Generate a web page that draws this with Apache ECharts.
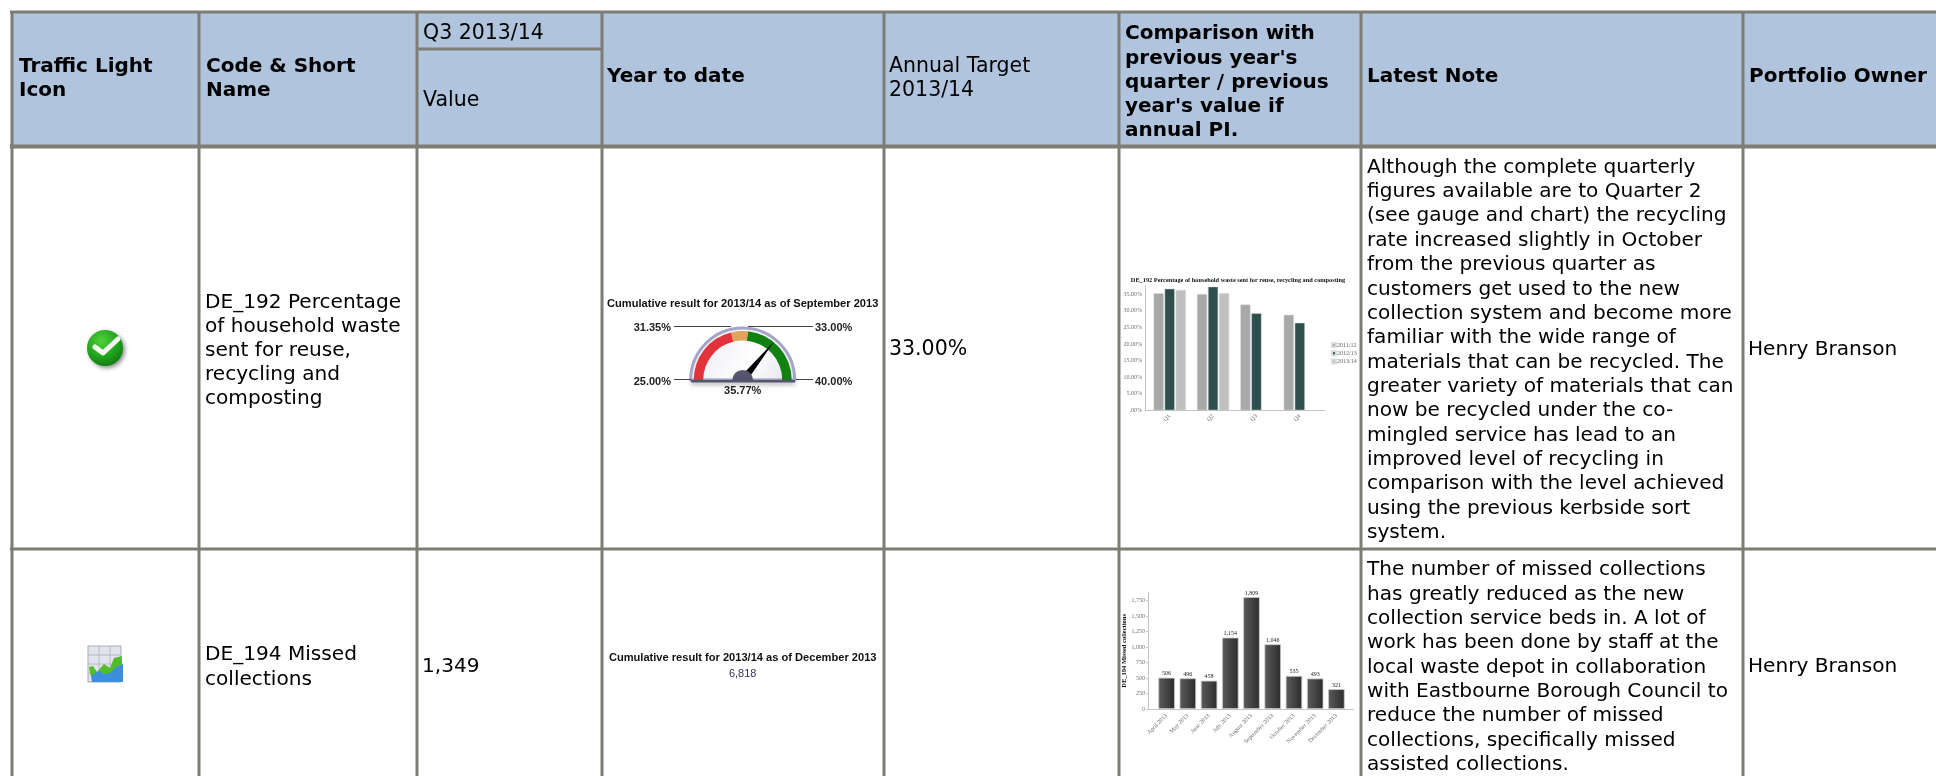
<!DOCTYPE html>
<html>
<head>
<meta charset="utf-8">
<title>Performance report</title>
<script src="https://cdn.jsdelivr.net/npm/echarts@6/dist/echarts.min.js"></script>
<style>
html,body{margin:0;padding:0;background:#fff;overflow:hidden}
#main{width:1936px;height:776px}
</style>
</head>
<body>
<div id="main"></div>
<script>
// recycling chart
var quarters = ['Q1','Q2','Q3','Q4'];
var years = ['2011/12','2012/13','2013/14'];
var recycling1112 = [35.3,35.1,31.9,28.8];
var recycling1213 = [36.7,37.3,29.3,26.4];
var recycling1314 = [36.3,35.3,null,null];
var recyclingTitle = 'DE_192 Percentage of household waste sent for reuse, recycling and composting';

// missed collections chart
var months = ['April 2013','May 2013','June 2013','July 2013','August 2013','September 2013','October 2013','November 2013','December 2013'];
var missed = [506,496,458,1154,1809,1046,535,493,321];
var missedName = 'DE_194 Missed collections';

// gauge
var gaugeMin = 25;
var gaugeMax = 40;
var gaugeRed = 31.35;
var gaugeAmber = 33;
var gaugeValue = 35.77;

// table text
var noteOne = ['Although the complete quarterly','figures available are to Quarter 2','(see gauge and chart) the recycling','rate increased slightly in October','from the previous quarter as','customers get used to the new','collection system and become more','familiar with the wide range of','materials that can be recycled. The','greater variety of materials that can','now be recycled under the co-','mingled service has lead to an','improved level of recycling in','comparison with the level achieved','using the previous kerbside sort','system.'];
var noteTwo = ['The number of missed collections','has greatly reduced as the new','collection service beds in. A lot of','work has been done by staff at the','local waste depot in collaboration','with Eastbourne Borough Council to','reduce the number of missed','collections, specifically missed','assisted collections.'];
var nameOne = ['DE_192 Percentage','of household waste','sent for reuse,','recycling and','composting'];
var nameTwo = ['DE_194 Missed','collections'];
var compareHead = ['Comparison with','previous year\'s','quarter / previous','year\'s value if','annual PI.'];

var BODY = '"DejaVu Sans"';
var SMALL = '"Liberation Serif"';
var ARIAL = '"Liberation Sans"';
var BORDER = '#7d7d74';
var SIZE = 20.1;
var BOLD = 20;
var HEAD = 20.5;

var g = [];

function txt(x, y, s, size, weight, align, color, family, z) {
    g.push({type:'text', x:x, y:y, z:z||5, style:{
        text:s, fill:color||'#000', align:align||'left', verticalAlign:'middle',
        font:(weight||'normal')+' '+size+'px '+(family||BODY)
    }});
}
function lines(x, y0, step, arr, size, weight) {
    arr.forEach(function(s,i){ txt(x, y0+i*step, s, size, weight); });
}
function rule(x1, y1, x2, y2, w, color, z) {
    g.push({type:'line', z:z||3, shape:{x1:x1,y1:y1,x2:x2,y2:y2}, style:{stroke:color||BORDER, lineWidth:w||3}});
}

// header band and table rules
g.push({type:'rect', z:1, shape:{x:12,y:12,width:1924,height:134}, style:{fill:'#b0c4de'}});
rule(10,12,1936,12,3);
rule(10,146.5,1936,146.5,4);
rule(10,549,1936,549,3);
rule(417,49,602,49,3);
[12,199,417,602,884,1119,1361,1743].forEach(function(x){ rule(x,11,x,776,3); });

// header text
lines(19,67,24,['Traffic Light','Icon'],BOLD,'bold');
lines(206,67,24,['Code & Short','Name'],BOLD,'bold');
txt(423,33.5,'Q3 2013/14',HEAD);
txt(423,101,'Value',HEAD);
txt(607,77,'Year to date',BOLD,'bold');
lines(889,67,23.5,['Annual Target','2013/14'],HEAD);
lines(1125,34,24.3,compareHead,BOLD,'bold');
txt(1367,77,'Latest Note',BOLD,'bold');
txt(1749,77,'Portfolio Owner',BOLD,'bold');

// rows
lines(205,303,24,nameOne,SIZE);
txt(889,350,gaugeAmber.toFixed(2)+'%',HEAD);
lines(1367,167.5,24.36,noteOne,SIZE);
txt(1748,350,'Henry Branson',SIZE);
lines(205,655,24.5,nameTwo,SIZE);
txt(422,667,missed.slice(6).reduce(function(a,b){return a+b;},0).toLocaleString('en-GB'),SIZE);
lines(1367,570,24.36,noteTwo,SIZE);
txt(1748,667,'Henry Branson',SIZE);

// tick icon
g.push({type:'circle', z:4, shape:{cx:105,cy:348,r:18}, style:{
    fill:{type:'radial',x:0.4,y:0.3,r:0.8,colorStops:[{offset:0,color:'#4fd03a'},{offset:0.6,color:'#1fa01c'},{offset:1,color:'#0b6f12'}]},
    shadowBlur:4, shadowOffsetX:2, shadowOffsetY:2, shadowColor:'rgba(0,0,0,0.45)'
}});
g.push({type:'polyline', z:5, shape:{points:[[95,347],[103,353],[118,339]]}, style:{fill:null, stroke:'#f4f8f2', lineWidth:5, lineJoin:'round', lineCap:'round'}});

// trend icon
g.push({type:'rect', z:4, shape:{x:88,y:646,width:33,height:36}, style:{fill:'#e2e3ec', stroke:'#a9abb8', lineWidth:1}});
[99,110].forEach(function(x){ rule(x,646,x,682,1,'#b6b8c6',4); });
[655,664,673].forEach(function(y){ rule(88,y,121,y,1,'#b6b8c6',4); });
g.push({type:'polygon', z:5, shape:{points:[[89,667],[93,666],[97,672],[104,664],[110,668],[114,658],[122,656],[122,672],[92,682]]}, style:{fill:'#4fbe2a'}});
g.push({type:'polygon', z:6, shape:{points:[[92,675],[99,671],[104,674],[110,673],[116,667],[123,664],[123,682],[92,682]]}, style:{fill:'#3b8fdd'}});

// gauge furniture, the arc and needle come from the series
var gx = 742.7, gy = 380;
txt(gx,304,'Cumulative result for 2013/14 as of September 2013',11.1,'bold','center','#111',ARIAL);
txt(gx,658,'Cumulative result for 2013/14 as of December 2013',11.1,'bold','center','#111',ARIAL);
txt(gx,674,missed.reduce(function(a,b){return a+b;},0).toLocaleString('en-GB'),11,'normal','center','#33335a',ARIAL);
g.push({type:'sector', z:1, shape:{cx:gx,cy:gy,r:52,r0:0,startAngle:Math.PI,endAngle:Math.PI*2}, style:{
    fill:{type:'linear',x:0,y:0,x2:1,y2:1,colorStops:[{offset:0,color:'#e8e8f2'},{offset:0.6,color:'#ffffff'},{offset:1,color:'#dedee8'}]},
    stroke:'#a4a4c6', lineWidth:3
}});
rule(674,326.5,731,326.5,1,'#444');
rule(748,326.5,813,326.5,1,'#444');
rule(674,379.5,691,379.5,1,'#444');
rule(796,379.5,813,379.5,1,'#444');
txt(671,327.5,gaugeRed.toFixed(2)+'%',11,'bold','right','#222',ARIAL);
txt(815,327.5,gaugeAmber.toFixed(2)+'%',11,'bold','left','#222',ARIAL);
txt(671,381.5,gaugeMin.toFixed(2)+'%',11,'bold','right','#222',ARIAL);
txt(815,381.5,gaugeMax.toFixed(2)+'%',11,'bold','left','#222',ARIAL);
g.push({type:'sector', z:90, shape:{cx:gx,cy:gy+0.5,r:10.5,r0:0,startAngle:Math.PI,endAngle:Math.PI*2}, style:{fill:'#55556e'}});
g.push({type:'rect', z:90, shape:{x:691,y:380,width:104,height:2.5}, style:{fill:'#55556e', shadowBlur:4, shadowOffsetY:2, shadowColor:'rgba(0,0,0,0.4)'}});

// axis lines run a little past the category bands
rule(1145,410.5,1325,410.5,1,'#c4c4c4');
rule(1148,709.5,1354,709.5,1,'#c4c4c4');

function barCommon(name, data, color) {
    return {name:name, type:'bar', xAxisIndex:0, yAxisIndex:0, data:data, barWidth:10.2, barGap:'8%',
        itemStyle:{color:color, borderColor:'#d8dcdc', borderWidth:0.5}};
}
var smallLabel = {fontFamily:SMALL, fontSize:6, color:'#6e6e6e'};

var option = {
    animation:false,
    title:{text:recyclingTitle, left:1233, top:272, textAlign:'center',
        textStyle:{fontFamily:SMALL, fontWeight:'bold', fontSize:6.3, color:'#111'}},
    legend:{data:years, orient:'vertical', left:1331, top:342, padding:0, itemWidth:4, itemHeight:4, itemGap:2.2,
        icon:'rect', selectedMode:false, textStyle:{fontFamily:SMALL, fontSize:6, color:'#666', padding:[0,0,0,-4]}},
    grid:[
        {left:1148, top:286, width:173.5, height:124.3},
        {left:1156, top:592.7, width:191, height:116.3}
    ],
    xAxis:[
        {type:'category', gridIndex:0, data:quarters, axisTick:{show:false}, axisLine:{show:false},
            axisLabel:Object.assign({rotate:45, margin:5}, smallLabel)},
        {type:'category', gridIndex:1, data:months, axisTick:{show:false}, axisLine:{show:false},
            axisLabel:Object.assign({rotate:45, margin:6, interval:0}, smallLabel)}
    ],
    yAxis:[
        {type:'value', gridIndex:0, min:0, max:37.5, interval:5, offset:3, splitLine:{show:false},
            axisLine:{show:true, lineStyle:{color:'#c4c4c4'}}, axisTick:{show:false},
            axisLabel:Object.assign({showMaxLabel:false, margin:3, formatter:function(v){ return v===0?'.00%':v.toFixed(2)+'%'; }}, smallLabel)},
        {type:'value', gridIndex:1, min:0, max:1880, interval:250, offset:8, splitLine:{show:false},
            name:missedName, nameLocation:'middle', nameGap:17, nameRotate:90,
            nameTextStyle:{fontFamily:SMALL, fontWeight:'bold', fontSize:6.5, color:'#111'},
            axisLine:{show:true, lineStyle:{color:'#c4c4c4'}}, axisTick:{show:true, length:2, lineStyle:{color:'#c4c4c4'}},
            axisLabel:Object.assign({showMaxLabel:false, margin:3, formatter:function(v){ return v.toLocaleString('en-GB'); }}, smallLabel)}
    ],
    series:[
        barCommon(years[0], recycling1112, '#a8a8a8'),
        barCommon(years[1], recycling1213, '#2f4f4f'),
        barCommon(years[2], recycling1314, '#bfbfbf'),
        {name:missedName, type:'bar', xAxisIndex:1, yAxisIndex:1, data:missed, barWidth:16.5,
            itemStyle:{
                color:{type:'linear',x:0,y:0,x2:1,y2:0,colorStops:[{offset:0,color:'#5c5c5c'},{offset:1,color:'#2c2c2c'}]},
                borderColor:'#c8c8c8', borderWidth:0.8
            },
            label:{show:true, position:'top', distance:1, fontFamily:SMALL, fontSize:6, color:'#222',
                formatter:function(p){ return p.value.toLocaleString('en-GB'); }}
        },
        {type:'gauge', center:[gx,gy], radius:49, startAngle:180, endAngle:0, min:gaugeMin, max:gaugeMax, z:10,
            axisLine:{lineStyle:{width:9.5, color:[
                [(gaugeRed-gaugeMin)/(gaugeMax-gaugeMin),'#e2333b'],
                [(gaugeAmber-gaugeMin)/(gaugeMax-gaugeMin),'#e2a45c'],
                [1,'#118111']
            ]}},
            axisTick:{show:false}, splitLine:{show:false}, axisLabel:{show:false},
            pointer:{icon:'path://M-4,0 L4,0 L0,-100 Z', length:'100%', width:8, offsetCenter:[0,0], itemStyle:{color:'#000'}},
            anchor:{show:false}, title:{show:false},
            detail:{valueAnimation:false, offsetCenter:[0,11], fontFamily:ARIAL, fontWeight:'bold', fontSize:11, color:'#222',
                formatter:function(v){ return v.toFixed(2)+'%'; }},
            data:[{value:gaugeValue}]
        }
    ],
    graphic:{elements:g}
};

var chart = echarts.init(document.getElementById('main'));
chart.setOption(option);
</script>
</body>
</html>
